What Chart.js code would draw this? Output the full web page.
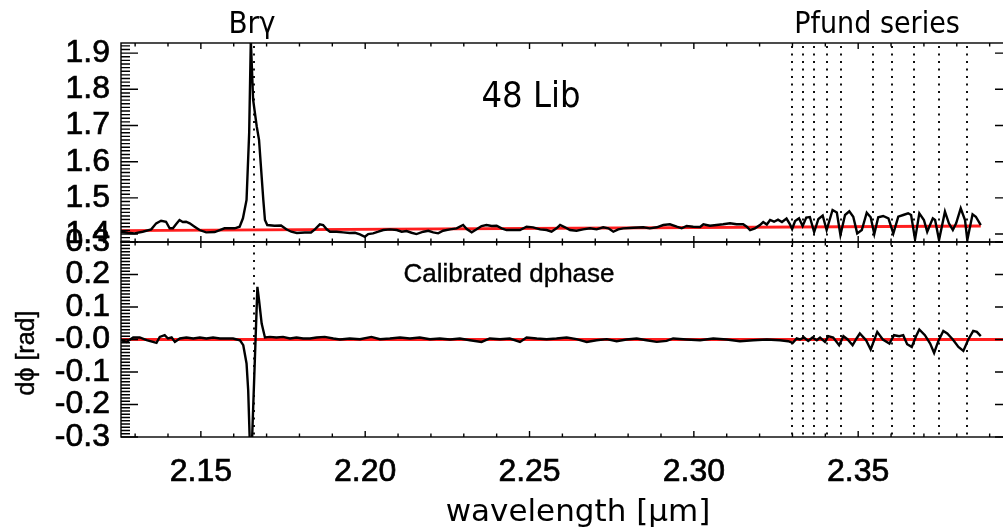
<!DOCTYPE html>
<html>
<head>
<meta charset="utf-8">
<script src="https://cdn.jsdelivr.net/npm/chart.js@4"></script>
<style>
  html, body { margin: 0; padding: 0; background: #fff; }
  #wrap { position: relative; width: 1003px; height: 527px; overflow: hidden; background: #fff; }
  #wrap canvas { position: absolute; left: 0; top: 0; }
</style>
</head>
<body>
<div id="wrap">
  <canvas id="fluxChart" width="1015" height="527"></canvas>
  <canvas id="phaseChart" width="1015" height="527"></canvas>
</div>
<script>
// ---- wavelength range (micron) ----
const wlMin = 2.1257;
const wlMax = 2.3968;

// ---- normalised flux spectrum (upper panel) ----
const fluxWl = [
  2.1257, 2.1278, 2.1298, 2.1323, 2.1349, 2.1364, 2.1379, 2.1394, 2.1405, 2.1415,
  2.1425, 2.1435, 2.1445, 2.1455, 2.1466, 2.1481, 2.1496, 2.1516, 2.1542, 2.1572,
  2.1603, 2.1618, 2.1628, 2.1639, 2.1647, 2.1652, 2.1659, 2.1670, 2.1677, 2.1690,
  2.1695, 2.1702, 2.1724, 2.1744, 2.1760, 2.1775, 2.1792, 2.1816, 2.1835, 2.1847,
  2.1862, 2.1872, 2.1883, 2.1893, 2.1913, 2.1933, 2.1953, 2.1969, 2.1984, 2.1999,
  2.2009, 2.2024, 2.2040, 2.2055, 2.2075, 2.2096, 2.2111, 2.2126, 2.2141, 2.2156,
  2.2177, 2.2192, 2.2207, 2.2222, 2.2237, 2.2258, 2.2278, 2.2298, 2.2309, 2.2324,
  2.2339, 2.2354, 2.2369, 2.2385, 2.2400, 2.2415, 2.2430, 2.2450, 2.2471, 2.2491,
  2.2511, 2.2532, 2.2552, 2.2567, 2.2582, 2.2593, 2.2608, 2.2623, 2.2643, 2.2663,
  2.2684, 2.2704, 2.2724, 2.2740, 2.2755, 2.2770, 2.2785, 2.2816, 2.2846, 2.2866,
  2.2887, 2.2907, 2.2927, 2.2948, 2.2963, 2.2978, 2.2998, 2.3019, 2.3029, 2.3049,
  2.3069, 2.3089, 2.3110, 2.3130, 2.3150, 2.3161, 2.3171, 2.3186, 2.3201, 2.3211,
  2.3222, 2.3232, 2.3244, 2.3256, 2.3268, 2.3282, 2.3292, 2.3299, 2.3308, 2.3320,
  2.3331, 2.3342, 2.3353, 2.3366, 2.3379, 2.3392, 2.3404, 2.3422, 2.3435, 2.3446,
  2.3460, 2.3473, 2.3485, 2.3497, 2.3511, 2.3526, 2.3538, 2.3549, 2.3561, 2.3576,
  2.3592, 2.3607, 2.3622, 2.3637, 2.3652, 2.3661, 2.3673, 2.3686, 2.3700, 2.3710,
  2.3727, 2.3734, 2.3746, 2.3764, 2.3776, 2.3788, 2.3798, 2.3812, 2.3825, 2.3832,
  2.3848, 2.3858, 2.3873
];
const fluxVal = [
  1.4064, 1.4036, 1.4019, 1.4064, 1.4130, 1.4296, 1.4368, 1.4341, 1.4158, 1.4158,
  1.4277, 1.4388, 1.4332, 1.4341, 1.4296, 1.4202, 1.4111, 1.4047, 1.4055, 1.4158,
  1.4158, 1.4202, 1.4435, 1.4942, 1.6798, 1.9370, 1.7712, 1.6972, 1.6604, 1.4942,
  1.4388, 1.4249, 1.4230, 1.4235, 1.4130, 1.4064, 1.4028, 1.4042, 1.4042, 1.4130,
  1.4269, 1.4249, 1.4130, 1.4064, 1.4064, 1.4047, 1.4028, 1.4036, 1.3992, 1.3925,
  1.4000, 1.4019, 1.4064, 1.4111, 1.4130, 1.4111, 1.4064, 1.4083, 1.4036, 1.4000,
  1.4064, 1.4091, 1.4047, 1.4019, 1.4091, 1.4130, 1.4158, 1.4249, 1.4139, 1.4047,
  1.4130, 1.4222, 1.4249, 1.4222, 1.4230, 1.4158, 1.4111, 1.4111, 1.4111, 1.4202,
  1.4186, 1.4130, 1.4111, 1.4064, 1.4158, 1.4249, 1.4186, 1.4111, 1.4091, 1.4130,
  1.4158, 1.4130, 1.4186, 1.4158, 1.4064, 1.4130, 1.4158, 1.4175, 1.4186, 1.4158,
  1.4186, 1.4249, 1.4269, 1.4202, 1.4158, 1.4222, 1.4202, 1.4194, 1.4269, 1.4230,
  1.4249, 1.4269, 1.4296, 1.4269, 1.4269, 1.4202, 1.4111, 1.4158, 1.4249, 1.4332,
  1.4263, 1.4388, 1.4341, 1.4396, 1.4332, 1.4429, 1.4277, 1.4139, 1.4360, 1.4435,
  1.4222, 1.4457, 1.4471, 1.4055, 1.4416, 1.4512, 1.4111, 1.4665, 1.4596, 1.3972,
  1.4526, 1.4629, 1.4479, 1.4019, 1.4111, 1.4590, 1.4463, 1.4000, 1.4463, 1.4499,
  1.4435, 1.4019, 1.4479, 1.4526, 1.4573, 1.4526, 1.3853, 1.4573, 1.4388, 1.4064,
  1.4435, 1.4388, 1.3834, 1.4618, 1.4296, 1.4111, 1.4296, 1.4712, 1.4388, 1.3834,
  1.4546, 1.4479, 1.4249
];

// ---- continuum fit of the flux (red line) ----
const contWl = [2.1257, 2.3873];
const contVal = [1.4097, 1.4222];

// ---- calibrated differential phase (lower panel, rad) ----
const phaseWl = [
  2.1257, 2.1274, 2.1294, 2.1314, 2.1335, 2.1365, 2.1375, 2.1390, 2.1400, 2.1411,
  2.1421, 2.1436, 2.1456, 2.1477, 2.1497, 2.1517, 2.1537, 2.1558, 2.1578, 2.1598,
  2.1619, 2.1629, 2.1639, 2.1644, 2.1652, 2.1672, 2.1677, 2.1685, 2.1695, 2.1710,
  2.1730, 2.1750, 2.1771, 2.1791, 2.1811, 2.1832, 2.1852, 2.1877, 2.1903, 2.1923,
  2.1953, 2.1984, 2.2019, 2.2045, 2.2075, 2.2106, 2.2136, 2.2166, 2.2197, 2.2227,
  2.2258, 2.2288, 2.2319, 2.2354, 2.2379, 2.2410, 2.2440, 2.2471, 2.2491, 2.2522,
  2.2552, 2.2582, 2.2613, 2.2643, 2.2674, 2.2704, 2.2735, 2.2765, 2.2795, 2.2826,
  2.2856, 2.2887, 2.2917, 2.2937, 2.2978, 2.3019, 2.3059, 2.3100, 2.3140, 2.3181,
  2.3222, 2.3262, 2.3287, 2.3301, 2.3313, 2.3323, 2.3335, 2.3348, 2.3361, 2.3374,
  2.3384, 2.3399, 2.3409, 2.3424, 2.3442, 2.3455, 2.3468, 2.3483, 2.3495, 2.3505,
  2.3524, 2.3538, 2.3558, 2.3575, 2.3595, 2.3609, 2.3625, 2.3637, 2.3649, 2.3663,
  2.3676, 2.3686, 2.3703, 2.3719, 2.3731, 2.3744, 2.3759, 2.3771, 2.3788, 2.3805,
  2.3820, 2.3835, 2.3850, 2.3861, 2.3873
];
const phaseVal = [
  -0.0022, -0.0074, 0.0062, 0.0062, -0.0022, -0.0105, 0.0080, 0.0132, 0.0031, 0.0062,
  -0.0074, 0.0031, 0.0062, 0.0031, 0.0062, 0.0031, 0.0062, 0.0031, 0.0031, 0.0031,
  -0.0022, -0.0175, -0.0738, -0.1560, -0.4180, 0.1620, 0.1210, 0.0490, 0.0062, 0.0080,
  0.0062, 0.0080, 0.0031, 0.0062, 0.0031, 0.0031, 0.0062, 0.0080, 0.0031, 0.0000,
  0.0031, 0.0010, 0.0080, 0.0010, 0.0031, 0.0062, 0.0031, 0.0062, 0.0010, 0.0031,
  0.0000, 0.0031, -0.0022, -0.0074, 0.0031, 0.0010, 0.0031, -0.0074, 0.0062, 0.0031,
  0.0010, 0.0031, 0.0062, 0.0010, -0.0074, -0.0022, 0.0010, -0.0052, 0.0000, 0.0031,
  -0.0022, -0.0074, -0.0043, 0.0031, 0.0000, -0.0022, 0.0031, 0.0000, -0.0052, -0.0022,
  0.0000, -0.0022, -0.0052, -0.0105, 0.0031, 0.0000, 0.0062, -0.0043, 0.0062, -0.0022,
  0.0062, -0.0074, 0.0102, 0.0062, -0.0175, 0.0102, 0.0000, -0.0175, 0.0031, 0.0185,
  -0.0022, -0.0308, 0.0234, 0.0000, -0.0123, 0.0132, 0.0102, 0.0132, -0.0145, -0.0228,
  0.0102, 0.0308, 0.0132, -0.0123, -0.0412, -0.0043, 0.0265, 0.0185, 0.0000, -0.0228,
  -0.0351, 0.0000, 0.0265, 0.0234, 0.0102
];

// ---- zero reference of the phase (red line) ----
const zeroWl = [2.1257, 2.3968];
const zeroVal = [0, 0];

// ---- line positions (micron): Br gamma and the Pfund series ----
const brGammaWl = [2.1661];
const pfundWl = [2.3300, 2.3332, 2.3367, 2.3405, 2.3447, 2.3546, 2.3604, 2.3671, 2.3746, 2.3831];

// ---- tick values and labels ----
const wlTicks = [2.15, 2.20, 2.25, 2.30, 2.35];
const wlTickLabels = ['2.15', '2.20', '2.25', '2.30', '2.35'];
const wlMinorTicks = [2.13, 2.14, 2.16, 2.17, 2.18, 2.19, 2.21, 2.22, 2.23, 2.24, 2.26, 2.27,
                      2.28, 2.29, 2.31, 2.32, 2.33, 2.34, 2.36, 2.37, 2.38, 2.39];
const fluxTicks = [1.4, 1.5, 1.6, 1.7, 1.8, 1.9];
const fluxTickLabels = ['1.4', '1.5', '1.6', '1.7', '1.8', '1.9'];
const phaseTicks = [-0.3, -0.2, -0.1, 0, 0.1, 0.2, 0.3];
const phaseTickLabels = ['-0.3', '-0.2', '-0.1', '-0.0', '0.1', '0.2', '0.3'];

const pts = (xs, ys) => xs.map((x, i) => ({ x, y: ys[i] }));

const AXIS_FONT = 'Liberation Sans';
const TITLE_FONT = 'DejaVu Sans';
const NOTE_FONT = 'DejaVu Sans Condensed';

// Frame, inward tick marks and dotted line markers, IDL style
function framePlugin(yMin, yMax, yMinorStep) {
  return {
    id: 'idlFrame',
    beforeDatasetsDraw(chart) {
      const { ctx, chartArea: a, scales: { x } } = chart;
      ctx.save();
      ctx.strokeStyle = '#111';
      ctx.lineWidth = 2;
      ctx.setLineDash([2, 5.5]);
      for (const w of brGammaWl.concat(pfundWl)) {
        const px = Math.round(x.getPixelForValue(w));
        ctx.beginPath();
        ctx.moveTo(px, a.top + 3);
        ctx.lineTo(px, a.bottom);
        ctx.stroke();
      }
      ctx.restore();
    },
    afterDatasetsDraw(chart) {
      const { ctx, chartArea: a, scales: { x, y } } = chart;
      ctx.save();
      ctx.strokeStyle = '#000';
      ctx.lineWidth = 1.4;
      ctx.setLineDash([]);
      ctx.strokeRect(a.left, a.top, a.right - a.left, a.bottom - a.top);
      ctx.beginPath();
      // x ticks on top and bottom borders
      for (const v of wlTicks) {
        const px = x.getPixelForValue(v);
        ctx.moveTo(px, a.top); ctx.lineTo(px, a.top + 6);
        ctx.moveTo(px, a.bottom); ctx.lineTo(px, a.bottom - 6);
      }
      for (const v of wlMinorTicks) {
        const px = x.getPixelForValue(v);
        ctx.moveTo(px, a.top); ctx.lineTo(px, a.top + 3.5);
        ctx.moveTo(px, a.bottom); ctx.lineTo(px, a.bottom - 3.5);
      }
      // y ticks on left and right borders
      for (const v of y.ticks.map(t => t.value)) {
        const py = y.getPixelForValue(v);
        ctx.moveTo(a.left, py); ctx.lineTo(a.left + 17, py);
        ctx.moveTo(a.right, py); ctx.lineTo(a.right - 17, py);
      }
      const n = Math.round((yMax - yMin) / yMinorStep);
      for (let i = 0; i <= n; i++) {
        const v = yMin + i * yMinorStep;
        const py = y.getPixelForValue(v);
        if (py < a.top - 0.5 || py > a.bottom + 0.5) continue;
        ctx.moveTo(a.left, py); ctx.lineTo(a.left + 9, py);
        ctx.moveTo(a.right, py); ctx.lineTo(a.right - 9, py);
      }
      ctx.stroke();
      ctx.restore();
    }
  };
}

// Free text: line names, star name, panel title and axis titles
const notesPlugin = {
  id: 'notes',
  afterDraw(chart) {
    const { ctx } = chart;
    ctx.save();
    ctx.fillStyle = '#000';
    ctx.strokeStyle = '#000';
    ctx.textAlign = 'center';
    ctx.textBaseline = 'alphabetic';
    ctx.font = `31px "${NOTE_FONT}"`;
    ctx.fillText('Brγ', 252, 33);
    ctx.font = `30px "${NOTE_FONT}"`;
    ctx.fillText('Pfund series', 877, 33);
    ctx.font = `36px "${NOTE_FONT}"`;
    ctx.fillText('48 Lib', 531, 107);
    ctx.font = `26px "${AXIS_FONT}"`;
    ctx.lineWidth = 0.4;
    ctx.fillText('Calibrated dphase', 509, 282);
    ctx.strokeText('Calibrated dphase', 509, 282);
    ctx.font = `31px "${TITLE_FONT}"`;
    ctx.fillText('wavelength [μm]', 578, 521);
    ctx.translate(34, 353);
    ctx.rotate(-Math.PI / 2);
    ctx.font = `25px "${AXIS_FONT}"`;
    ctx.fillText('dϕ [rad]', 0, 0);
    ctx.strokeText('dϕ [rad]', 0, 0);
    ctx.restore();
  }
};

function yAxis(min, max, ticks, labels) {
  return {
    type: 'linear',
    position: 'left',
    min, max,
    grid: { display: false, drawTicks: false },
    border: { display: false },
    afterBuildTicks: s => { s.ticks = ticks.map(v => ({ value: v })); },
    afterFit: s => { s.width = 121; },
    ticks: {
      color: '#000',
      padding: 11,
      autoSkip: false,
      textStrokeColor: '#000',
      textStrokeWidth: 0.7,
      font: { family: AXIS_FONT, size: 32 },
      callback: (v, i) => labels[i]
    }
  };
}

Chart.defaults.animation = false;

new Chart(document.getElementById('fluxChart'), {
  type: 'line',
  data: {
    datasets: [
      { data: pts(fluxWl, fluxVal), borderColor: '#000', borderWidth: 2.4, pointRadius: 0, tension: 0 },
      { data: pts(contWl, contVal), borderColor: '#ff1e1e', borderWidth: 2.8, pointRadius: 0, tension: 0 }
    ]
  },
  options: {
    responsive: false,
    animation: false,
    layout: { padding: { top: 43, bottom: 285, left: 0, right: 3 } },
    plugins: { legend: { display: false }, tooltip: { enabled: false } },
    scales: {
      x: { type: 'linear', min: wlMin, max: wlMax, display: false },
      y: yAxis(1.378, 1.928, fluxTicks, fluxTickLabels)
    }
  },
  plugins: [framePlugin(1.38, 1.92, 0.01)]
});

new Chart(document.getElementById('phaseChart'), {
  type: 'line',
  data: {
    datasets: [
      { data: pts(phaseWl, phaseVal), borderColor: '#000', borderWidth: 2.4, pointRadius: 0, tension: 0 },
      { data: pts(zeroWl, zeroVal), borderColor: '#ff1e1e', borderWidth: 2.8, pointRadius: 0, tension: 0 }
    ]
  },
  options: {
    responsive: false,
    animation: false,
    layout: { padding: { top: 242, bottom: 0, left: 0, right: 3 } },
    plugins: { legend: { display: false }, tooltip: { enabled: false } },
    scales: {
      x: {
        type: 'linear',
        min: wlMin, max: wlMax,
        grid: { display: false, drawTicks: false },
        border: { display: false },
        afterBuildTicks: s => { s.ticks = wlTicks.map(v => ({ value: v })); },
        afterFit: s => { s.height = 90; },
        ticks: {
          color: '#000',
          padding: 16,
          autoSkip: false,
          maxRotation: 0,
          textStrokeColor: '#000',
          textStrokeWidth: 0.7,
          font: { family: AXIS_FONT, size: 32 },
          callback: (v, i) => wlTickLabels[i]
        }
      },
      y: yAxis(-0.3, 0.3, phaseTicks, phaseTickLabels)
    }
  },
  plugins: [framePlugin(-0.3, 0.3, 0.01), notesPlugin]
});
</script>
</body>
</html>
